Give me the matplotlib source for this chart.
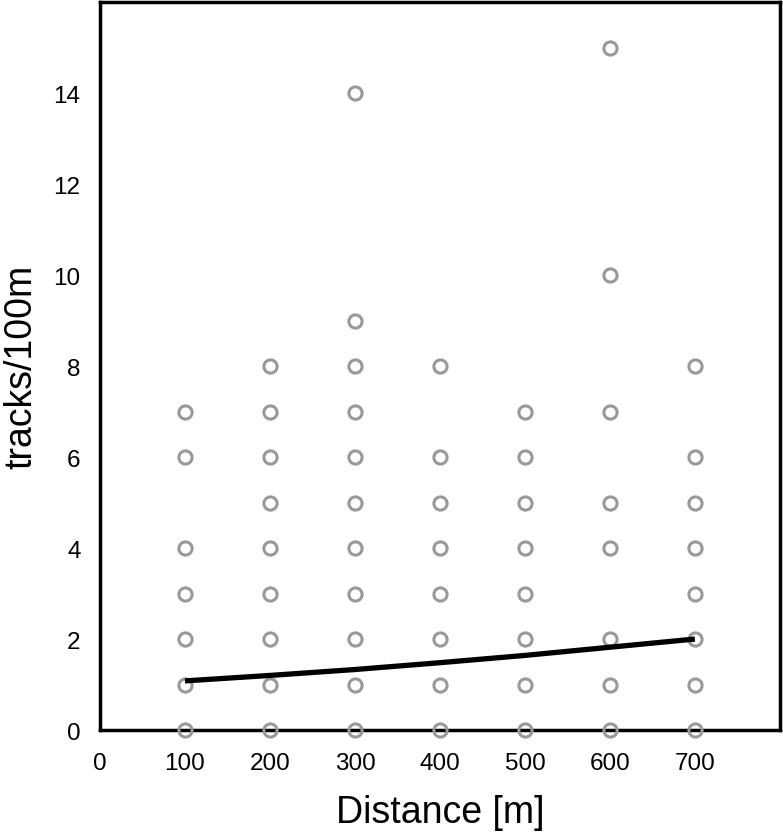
import matplotlib
matplotlib.use("Agg")
import matplotlib.pyplot as plt

plt.rcParams["font.family"] = ["Liberation Sans", "DejaVu Sans"]

# observed tracks per 100 m, grouped by distance
dist_100 = [0, 1, 2, 3, 4, 6, 7]
dist_200 = [0, 1, 2, 3, 4, 5, 6, 7, 8]
dist_300 = [0, 1, 2, 3, 4, 5, 6, 7, 8, 9, 14]
dist_400 = [0, 1, 2, 3, 4, 5, 6, 8]
dist_500 = [0, 1, 2, 3, 4, 5, 6, 7]
dist_600 = [0, 1, 2, 4, 5, 7, 10, 15]
dist_700 = [0, 1, 2, 3, 4, 5, 6, 8]
distances = [100, 200, 300, 400, 500, 600, 700]

# fitted curve
fit_x = [100, 200, 300, 400, 500, 600, 700]
fit_y = [1.08, 1.2, 1.33, 1.48, 1.64, 1.82, 2.0]

groups = [dist_100, dist_200, dist_300, dist_400, dist_500, dist_600, dist_700]

fig = plt.figure(figsize=(7.83, 8.37), dpi=100)
ax = fig.add_axes([0.1277, 0.1266, 0.8683, 0.8698])

for d, vals in zip(distances, groups):
    ax.plot([d] * len(vals), vals, "o", mfc="none", mec="#999999",
            ms=9.5, mew=2.2, clip_on=False, zorder=3)

ax.plot(fit_x, fit_y, color="black", lw=3.8, solid_capstyle="butt", zorder=4)

ax.set_xlim(0, 800)
ax.set_ylim(0, 16)
ax.set_xticks([0, 100, 200, 300, 400, 500, 600, 700])
ax.set_yticks([0, 2, 4, 6, 8, 10, 12, 14])
ax.tick_params(length=0, labelsize=17.5)
ax.tick_params(axis="x", pad=16)
ax.tick_params(axis="y", pad=14)
for s in ax.spines.values():
    s.set_linewidth(2.5)

ax.set_xlabel("Distance [m]", fontsize=27, labelpad=14)
ax.set_ylabel("tracks/100m", fontsize=27, labelpad=10)

fig.savefig("out.png", dpi=100)
